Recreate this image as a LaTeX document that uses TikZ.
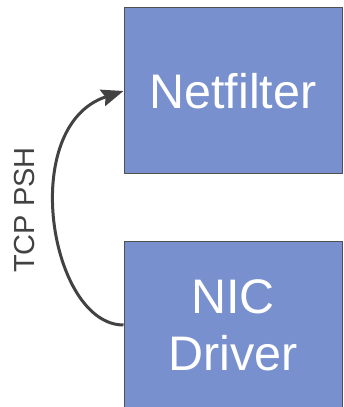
\documentclass[tikz,border=0pt]{standalone}
\usepackage{fontspec}
\setmainfont{Liberation Sans}
\usetikzlibrary{arrows.meta}
\definecolor{boxfill}{RGB}{121,144,206}
\definecolor{boxline}{RGB}{80,80,80}
\definecolor{flow}{RGB}{66,66,66}
\tikzset{
  layer/.style={draw=boxline, line width=1pt, fill=boxfill, text=white,
    minimum width=218pt, inner sep=0pt, align=center,
    font=\fontsize{48.5}{57}\selectfont},
  flowline/.style={draw=flow, line width=3pt,
    -{Stealth[length=22pt, width=17pt, inset=3pt]}},
  flowlabel/.style={font=\fontsize{29}{34}\selectfont, text=flow}
}
\begin{document}
\begin{tikzpicture}[x=1pt, y=1pt]
  \useasboundingbox (0,0) rectangle (343,407);
  \clip (0,0) rectangle (343,407);
  % kernel layers (the driver box runs past the lower edge)
  \node[layer, minimum height=166pt] (nf)  at (233,316) {Netfilter};
  \node[layer, minimum height=172pt] (nic) at (233,79)  {};
  \node[text=white, align=center, font=\fontsize{48.5}{57}\selectfont]
    (nictext) at (233,82) {NIC\\Driver};
  \coordinate (src) at ([yshift=3pt]nic.west);
  % packet path from the driver up to netfilter
  \draw[flowline] (src) .. controls (50,82) and (17,281) .. (nf.west);
  \node[flowlabel, rotate=90] (lbl) at (25,197) {TCP PSH};
\end{tikzpicture}
\end{document}
